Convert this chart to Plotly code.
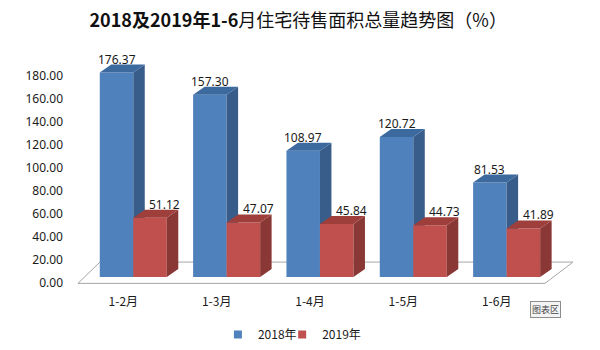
import plotly.graph_objects as go

# ---- data ----
categories = ["1-2月", "1-3月", "1-4月", "1-5月", "1-6月"]
series_names = ["2018年", "2019年"]
values_2018 = [176.37, 157.30, 108.97, 120.72, 81.53]
values_2019 = [51.12, 47.07, 45.84, 44.73, 41.89]
y_ticks = [0, 20, 40, 60, 80, 100, 120, 140, 160, 180]

# ---- styling ----
FONT = "Noto Sans, Noto Sans CJK SC, sans-serif"
BLUE = dict(front="#4F81BD", side="#385D8A", top="#3D6A9E")
RED = dict(front="#C0504D", side="#8A3836", top="#9E3F3C")

# axis ranges (data axis for bars, label axis for the value ticks)
X_RANGE = [-0.678, 4.786]
Y_RANGE = [-11.2, 204.5]
Y_LABEL_RANGE = [-6.08, 210.9]

BAR_W = 0.359          # width of one bar in category units
DEPTH_X = 0.123        # 3-D depth, horizontal part (category units)
DEPTH_Y = 6.9          # 3-D depth, vertical part (value units)
LABEL_SHIFT = -0.107   # category labels sit on the front edge of the floor


def faces(centers, values):
    """Polygons for the side and top faces of extruded bars."""
    sx, sy, tx, ty = [], [], [], []
    for c, v in zip(centers, values):
        left, right = c - BAR_W / 2, c + BAR_W / 2
        sx += [right, right + DEPTH_X, right + DEPTH_X, right, right, None]
        sy += [0, DEPTH_Y, v + DEPTH_Y, v, 0, None]
        tx += [left, right, right + DEPTH_X, left + DEPTH_X, left, None]
        ty += [v, v, v + DEPTH_Y, v + DEPTH_Y, v, None]
    return sx, sy, tx, ty


idx = list(range(len(categories)))
blue_x = [i - BAR_W / 2 for i in idx]
red_x = [i + BAR_W / 2 for i in idx]

fig = go.Figure()


def add_series(xs, vals, col, xa, ya):
    fig.add_trace(go.Bar(x=xs, y=vals, width=BAR_W, marker=dict(color=col["front"], line=dict(width=0)),
                         showlegend=False, hoverinfo="skip", xaxis=xa, yaxis=ya))
    sx, sy, tx, ty = faces(xs, vals)
    fig.add_trace(go.Scatter(x=sx, y=sy, fill="toself", fillcolor=col["side"], mode="none",
                             showlegend=False, hoverinfo="skip", xaxis=xa, yaxis=ya))
    fig.add_trace(go.Scatter(x=tx, y=ty, fill="toself", fillcolor=col["top"], mode="none",
                             showlegend=False, hoverinfo="skip", xaxis=xa, yaxis=ya))


# 2018 on the base subplot, 2019 on an overlaid one so its bars sit in front
add_series(blue_x, values_2018, BLUE, "x", "y")
add_series(red_x, values_2019, RED, "x2", "y2")

# value-axis labels
fig.add_trace(go.Scatter(x=[None], y=[None], xaxis="x", yaxis="y3", showlegend=False, hoverinfo="skip"))

# legend entries (one legend box per series keeps them close together)
for name, col, lg in zip(series_names, [BLUE, RED], ["legend", "legend2"]):
    fig.add_trace(go.Scatter(x=[None], y=[None], mode="markers", name=name, legend=lg,
                             marker=dict(symbol="square", size=8, color=col["front"])))

# data labels
for xs, vals, dx in [(blue_x, values_2018, 0.0), (red_x, values_2019, 0.16)]:
    for c, v in zip(xs, vals):
        fig.add_annotation(x=c + dx, y=v, xref="x", yref="y", text=f"{v:.2f}", showarrow=False,
                           yanchor="bottom", yshift=3, font=dict(family=FONT, size=12, color="#1A1A1A"))

# floor of the 3-D plot area
floor = [(-0.593, -5.5), (4.411, -5.5), (4.711, 12.9), (-0.357, 12.9)]
path = "M " + " L ".join(f"{x},{y}" for x, y in floor) + " Z"
fig.add_shape(type="path", path=path, xref="x", yref="y", layer="below",
              line=dict(color="#A6A6A6", width=1), fillcolor="white")

# chart-area tooltip
fig.add_annotation(x=0.933, y=-0.076, xref="paper", yref="paper", xanchor="center", yanchor="middle",
                   text="图表区", showarrow=False,
                   font=dict(family="Noto Sans CJK SC", size=9, color="#444"),
                   bgcolor="#F4F4F4", bordercolor="#8C8C8C", borderwidth=1, borderpad=1)

hidden = dict(showgrid=False, zeroline=False, showline=False, showticklabels=False, ticks="")
legend_style = dict(orientation="h", xanchor="left", y=-0.12, yanchor="top",
                    font=dict(family="Noto Sans CJK SC", size=12), bgcolor="rgba(0,0,0,0)")
fig.update_layout(
    width=600, height=350,
    margin=dict(l=70, r=20, t=40, b=60, autoexpand=False),
    paper_bgcolor="white", plot_bgcolor="white",
    font=dict(family=FONT, size=12, color="#1A1A1A"),
    barmode="overlay",
    title=dict(text="<b>2018及2019年1-6</b>月住宅待售面积总量趋势图（%）", x=0.497, xref="container",
               y=1 - 21 / 350, yref="container", yanchor="middle", xanchor="center",
               font=dict(family="Noto Sans CJK SC", size=18, color="#111")),
    xaxis=dict(range=X_RANGE, tickvals=[i + LABEL_SHIFT for i in idx], ticktext=categories,
               showgrid=False, zeroline=False, showline=False, ticks="", ticklabelstandoff=3,
               tickfont=dict(family="Noto Sans CJK SC", size=12, color="#1A1A1A")),
    yaxis=dict(range=Y_RANGE, **hidden),
    xaxis2=dict(range=X_RANGE, overlaying="x", **hidden),
    yaxis2=dict(range=Y_RANGE, overlaying="y", **hidden),
    yaxis3=dict(range=Y_LABEL_RANGE, overlaying="y", side="left", tickvals=y_ticks, tickformat=".2f",
                showgrid=False, zeroline=False, showline=False, ticks="", ticklabelstandoff=6,
                tickfont=dict(family=FONT, size=12, color="#1A1A1A")),
    legend=dict(x=0.290, **legend_style),
    legend2=dict(x=0.416, **legend_style),
    showlegend=True,
)

fig.write_html("out.html")
